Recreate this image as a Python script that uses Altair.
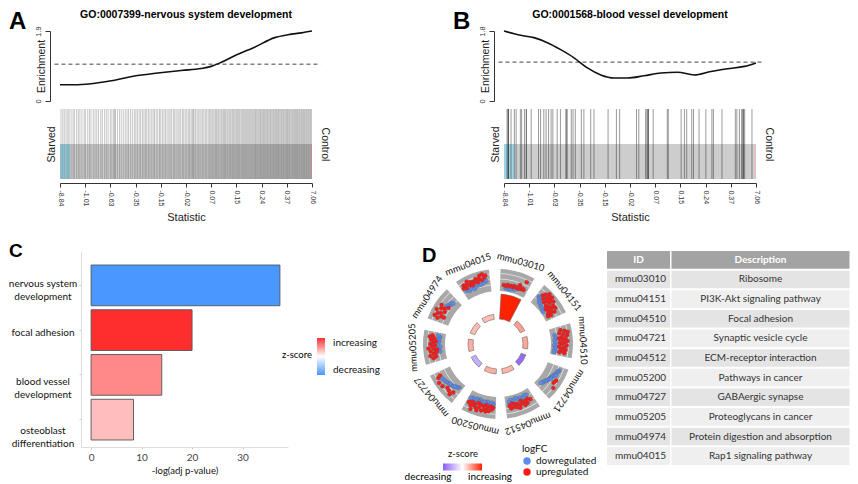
import json
import math
import altair as alt
import pandas as pd

R_FONT = "Liberation Sans"
S_FONT = "Lato"

# ---------------- Panels A / B (barcode enrichment plots) ----------------
STAT_LABELS = ["-8.84", "-1.01", "-0.63", "-0.35", "-0.15", "-0.02", "0.07", "0.15", "0.24", "0.37", "7.06"]

A_LETTER = "A"
A_TITLE = "GO:0007399-nervous system development"
A_CURVE_RANK = [0, 57, 123, 203, 295, 388, 481, 560, 600, 640, 693, 772, 852, 905, 958, 1000]
A_CURVE_ENR = [0.44, 0.44, 0.47, 0.55, 0.68, 0.76, 0.83, 0.88, 0.94, 1.05, 1.23, 1.46, 1.72, 1.80, 1.85, 1.90]
A_YMAX = 1.9
A_STARVED_END = 40
A_CONTROL_START = 995
A_BARS = [4, 11, 17, 24, 31, 36, 44, 52, 57, 66, 73, 79, 87, 96, 101, 110, 117, 123, 132, 139, 146, 153,
          162, 168, 177, 184, 191, 200, 206, 213, 217, 220, 228, 236, 243, 251, 259, 266, 272, 280, 287, 295,
          301, 307, 314, 320, 327, 333, 339, 344, 351, 357, 364, 370, 375, 382, 388, 395, 400, 407, 413, 419,
          425, 432, 437, 443, 450, 455, 461, 468, 473, 479, 486, 491, 497, 503, 509, 514, 520, 525, 529, 532,
          538, 544, 549, 555, 560, 566, 571, 577, 582, 588, 593, 598,
          603, 607, 612, 617, 621, 626, 630, 635, 640, 644, 649, 653, 657, 662, 666, 671, 675, 679, 684, 688,
          692, 697, 701, 705, 709, 713, 718, 722, 726, 730, 734, 738, 742, 746, 750, 754, 758, 762, 766, 770,
          774, 777, 781, 785, 789, 793, 796, 800, 804, 808, 811, 815, 819, 823, 826, 830, 834, 837, 841, 845,
          848, 852, 856, 859, 863, 867, 870, 874, 878, 881, 885, 888, 892, 896, 899, 903, 906, 910, 913, 917,
          921, 924, 928, 931, 935, 938, 942, 945, 949, 952, 956, 959, 963, 966, 970, 973, 977, 980, 984, 987,
          991, 994, 998]

B_LETTER = "B"
B_TITLE = "GO:0001568-blood vessel development"
B_CURVE_RANK = [0, 66, 119, 172, 225, 278, 331, 384, 437, 490, 556, 623, 689, 755, 821, 887, 954, 1000]
B_CURVE_ENR = [1.80, 1.69, 1.63, 1.50, 1.32, 1.11, 0.85, 0.67, 0.59, 0.59, 0.65, 0.72, 0.74, 0.67, 0.76, 0.83, 0.89, 0.98]
B_YMAX = 1.8
B_STARVED_END = 42
B_CONTROL_START = 996
B_BARS = [12, 16, 17, 18, 28, 41, 48, 65, 70, 81, 88, 89, 108, 137, 145, 158, 167, 177, 187, 194, 211, 224,
          246, 247, 251, 267, 274, 283, 307, 317, 344, 357, 413, 446, 459, 526, 535, 562, 567, 571, 572, 573,
          592, 648, 652, 703, 716, 725, 745, 752, 774, 801, 825, 831, 865, 918, 924, 934, 944, 945, 950, 951,
          955, 984]

DASH_LEVEL = 1.0
DASH_SPAN = [-22, 1034]

# ---------------- Panel C ----------------
C_LETTER = "C"
C_TERMS = ["nervous system|development", "focal adhesion", "blood vessel|development", "osteoblast|differentiation"]
C_NEGLOGP = [37.4, 20.0, 14.0, 8.4]
C_ZSCORE = [-3.0, 3.0, 1.7, 0.95]
C_LEGEND_TITLE = "z-score"

# ---------------- Panel D ----------------
D_LETTER = "D"
D_IDS = ["mmu03010", "mmu04151", "mmu04510", "mmu04721", "mmu04512",
         "mmu05200", "mmu04727", "mmu05205", "mmu04974", "mmu04015"]
D_DESC = ["Ribosome", "PI3K-Akt signaling pathway", "Focal adhesion", "Synaptic vesicle cycle",
          "ECM-receptor interaction", "Pathways in cancer", "GABAergic synapse", "Proteoglycans in cancer",
          "Protein digestion and absorption", "Rap1 signaling pathway"]
D_ZSCORE = [3.0, 1.3, 1.2, -2.7, 1.0, 1.1, -1.5, 1.1, 0.9, 0.9]
D_SIGNIF = [5.0, 1.0, 1.0, 1.0, 1.0, 1.0, 1.0, 1.0, 1.0, 1.0]
D_Z_ENDS = ["decreasing", "increasing"]

# gene points per term: (position within sector 0-1, logFC track position 0-1)
D_UP = [
    [(0.10, 0.25), (0.18, 0.22), (0.25, 0.28), (0.31, 0.24), (0.38, 0.27), (0.45, 0.22), (0.50, 0.30), (0.56, 0.25),
     (0.62, 0.28), (0.68, 0.22), (0.73, 0.30), (0.78, 0.26), (0.84, 0.32), (0.90, 0.28), (0.70, 0.45), (0.88, 0.72)],
    [(0.15, 0.60), (0.20, 0.75), (0.25, 0.50), (0.30, 0.65), (0.35, 0.80), (0.35, 0.40), (0.40, 0.55), (0.45, 0.70),
     (0.50, 0.35), (0.50, 0.60), (0.55, 0.80), (0.60, 0.45), (0.60, 0.25), (0.65, 0.65), (0.70, 0.50), (0.70, 0.30),
     (0.75, 0.70), (0.80, 0.40), (0.80, 0.20), (0.85, 0.55), (0.90, 0.30), (0.88, 0.15), (0.42, 0.88), (0.28, 0.90)],
    [(0.10, 0.50), (0.15, 0.70), (0.20, 0.40), (0.25, 0.60), (0.30, 0.80), (0.35, 0.50), (0.40, 0.35), (0.40, 0.70),
     (0.45, 0.55), (0.50, 0.80), (0.55, 0.40), (0.55, 0.65), (0.60, 0.50), (0.65, 0.75), (0.70, 0.35), (0.72, 0.60),
     (0.78, 0.45), (0.80, 0.70), (0.85, 0.55), (0.90, 0.40), (0.92, 0.65), (0.20, 0.85)],
    [(0.45, 0.75), (0.55, 0.70), (0.70, 0.85)],
    [(0.10, 0.50), (0.20, 0.40), (0.25, 0.60), (0.30, 0.45), (0.35, 0.65), (0.40, 0.50), (0.45, 0.35), (0.50, 0.55),
     (0.55, 0.70), (0.60, 0.45), (0.65, 0.60), (0.70, 0.40), (0.75, 0.55), (0.80, 0.35), (0.85, 0.60), (0.90, 0.45)],
    [(0.05, 0.50), (0.10, 0.60), (0.15, 0.45), (0.20, 0.70), (0.25, 0.55), (0.30, 0.40), (0.35, 0.65), (0.40, 0.50),
     (0.45, 0.75), (0.50, 0.45), (0.55, 0.60), (0.60, 0.40), (0.65, 0.70), (0.70, 0.50), (0.75, 0.60), (0.80, 0.45),
     (0.85, 0.65), (0.90, 0.50), (0.95, 0.55), (0.30, 0.75), (0.60, 0.80), (0.80, 0.85)],
    [(0.15, 0.60), (0.30, 0.70), (0.40, 0.65), (0.55, 0.80), (0.70, 0.85), (0.85, 0.75), (0.90, 0.60), (0.20, 0.80)],
    [(0.10, 0.60), (0.15, 0.45), (0.20, 0.75), (0.25, 0.55), (0.30, 0.40), (0.35, 0.70), (0.40, 0.50), (0.45, 0.80),
     (0.50, 0.60), (0.55, 0.45), (0.60, 0.70), (0.65, 0.55), (0.70, 0.40), (0.75, 0.65), (0.80, 0.50), (0.85, 0.75),
     (0.90, 0.60), (0.40, 0.35)],
    [(0.10, 0.60), (0.15, 0.80), (0.20, 0.45), (0.25, 0.70), (0.30, 0.55), (0.35, 0.85), (0.40, 0.40), (0.45, 0.65),
     (0.50, 0.50), (0.55, 0.75), (0.20, 0.30), (0.60, 0.35)],
    [(0.05, 0.55), (0.10, 0.70), (0.15, 0.50), (0.20, 0.65), (0.25, 0.80), (0.30, 0.55), (0.35, 0.70), (0.40, 0.50),
     (0.45, 0.65), (0.50, 0.60), (0.55, 0.75), (0.60, 0.55), (0.65, 0.70), (0.70, 0.85), (0.75, 0.60), (0.80, 0.90),
     (0.85, 0.70), (0.90, 0.80)],
]
D_DOWN = [
    [(0.20, 0.08), (0.28, 0.12), (0.35, 0.06), (0.42, 0.10), (0.55, 0.12)],
    [(0.08, 0.45), (0.12, 0.35), (0.18, 0.30), (0.22, 0.22), (0.30, 0.20), (0.38, 0.15), (0.45, 0.12), (0.55, 0.08),
     (0.62, 0.05), (0.15, 0.50)],
    [(0.25, 0.15), (0.35, 0.20), (0.45, 0.12), (0.55, 0.18), (0.65, 0.10), (0.70, 0.20), (0.80, 0.12), (0.88, 0.20),
     (0.92, 0.10)],
    [(0.10, 0.65), (0.15, 0.60), (0.20, 0.58), (0.25, 0.55), (0.30, 0.52), (0.35, 0.50), (0.40, 0.45), (0.45, 0.42),
     (0.50, 0.40), (0.55, 0.38), (0.60, 0.35), (0.65, 0.30), (0.70, 0.28), (0.75, 0.25), (0.80, 0.22), (0.85, 0.18),
     (0.30, 0.60), (0.50, 0.48)],
    [(0.15, 0.20), (0.25, 0.15), (0.35, 0.25), (0.45, 0.18), (0.55, 0.22), (0.62, 0.12), (0.72, 0.20), (0.82, 0.15),
     (0.90, 0.25)],
    [(0.05, 0.30), (0.12, 0.25), (0.20, 0.30), (0.28, 0.22), (0.35, 0.30), (0.42, 0.25), (0.50, 0.30), (0.58, 0.20),
     (0.65, 0.28), (0.72, 0.22), (0.80, 0.30), (0.88, 0.25), (0.95, 0.30)],
    [(0.10, 0.20), (0.15, 0.25), (0.20, 0.30), (0.28, 0.35), (0.35, 0.38), (0.42, 0.42), (0.50, 0.45), (0.58, 0.50),
     (0.65, 0.52), (0.72, 0.55), (0.80, 0.60), (0.25, 0.30), (0.45, 0.40)],
    [(0.30, 0.20), (0.40, 0.25), (0.50, 0.18), (0.60, 0.30), (0.70, 0.22), (0.78, 0.28), (0.86, 0.20), (0.92, 0.30)],
    [(0.60, 0.50), (0.65, 0.40), (0.70, 0.45), (0.75, 0.35), (0.80, 0.40), (0.85, 0.30)],
    [(0.10, 0.35), (0.20, 0.30), (0.30, 0.35), (0.40, 0.28), (0.50, 0.35), (0.60, 0.40), (0.70, 0.38), (0.80, 0.45),
     (0.90, 0.50)],
]
REG_NAMES = ["dowregulated", "upregulated"]

# ---------------- helpers ----------------
def text_layer(txt, dx, dy, size, align="left", font=R_FONT, weight="bold", baseline="top"):
    return alt.Chart(pd.DataFrame({"t": [txt]})).mark_text(
        font=font, fontSize=size, fontWeight=weight, align=align, baseline=baseline, color="black"
    ).encode(text="t:N", x=alt.value(dx), y=alt.value(dy))


def enrich_chart(title, letter, ranks, enr, ymax):
    df = pd.DataFrame({"rank": ranks, "enr": enr})
    xs = alt.Scale(domain=[0, 1000], nice=False, zero=False)
    ys = alt.Scale(domain=[0, ymax], nice=False, zero=False)
    yaxis = alt.Axis(values=[0, ymax], format=".1~f", title="Enrichment", labelAngle=-90, offset=10, grid=False,
                     domainColor="#333", tickColor="#333", tickSize=5, labelPadding=3, labelFlush=False,
                     labelFont=R_FONT, labelFontSize=7.5, labelColor="#333",
                     titleFont=R_FONT, titleFontSize=10.5, titleFontWeight="normal", titleColor="#222",
                     titlePadding=-12)
    line = alt.Chart(df).mark_line(color="#111", strokeWidth=1.6, interpolate="monotone").encode(
        x=alt.X("rank:Q", scale=xs, axis=None), y=alt.Y("enr:Q", scale=ys, axis=yaxis))
    ref = pd.DataFrame({"lo": [DASH_SPAN[0]], "hi": [DASH_SPAN[1]], "lvl": [DASH_LEVEL]})
    dash = alt.Chart(ref).mark_rule(color="#444", strokeDash=[4, 3], strokeWidth=1).encode(
        x=alt.X("lo:Q", scale=xs, axis=None), x2="hi:Q", y=alt.Y("lvl:Q", scale=ys, axis=yaxis))
    return alt.layer(dash, line,
                     text_layer(letter, -51, -21, 24),
                     text_layer(title, 126, -21, 10.5, align="center")).properties(width=252, height=70)


def barcode_chart(bars, starved_end, control_start, opacity):
    xs = alt.Scale(domain=[0, 1000], nice=False, zero=False)
    ticks = [k * 100 for k in range(len(STAT_LABELS))]
    xaxis = alt.Axis(values=ticks, labelExpr=json.dumps(STAT_LABELS) + "[round(datum.value / 100)]",
                     labelAngle=90, labelAlign="left", labelBaseline="middle", offset=4, tickSize=4,
                     grid=False, domainColor="#333", tickColor="#333", labelFont=R_FONT, labelFontSize=7,
                     labelColor="#333", labelPadding=3, labelFlush=False, labelOverlap=False,
                     title="Statistic", titleFont=R_FONT, titleFontSize=11, titleFontWeight="normal",
                     titleColor="#222", titlePadding=6)
    ys = alt.Scale(domain=[0, 1], nice=False, zero=False)
    regions = pd.DataFrame({"x0": [0, starved_end, control_start],
                            "x1": [starved_end, control_start, 1000],
                            "part": ["starved", "middle", "control"]})
    rect = alt.Chart(regions).mark_rect().encode(
        x=alt.X("x0:Q", scale=xs, axis=xaxis), x2="x1:Q",
        y=alt.Y(datum=0, scale=ys, axis=alt.Axis(title="Starved", labels=False, ticks=False, domain=False,
                                                  grid=False, titleFont=R_FONT, titleFontSize=10.5,
                                                  titleFontWeight="normal", titleColor="#222", titlePadding=4)),
        y2=alt.datum(0.5),
        color=alt.Color("part:N", scale=alt.Scale(domain=["starved", "middle", "control"],
                                                   range=["#9ED3E3", "#CDCDCD", "#F5B5BF"]), legend=None))
    rules = alt.Chart(pd.DataFrame({"rank": bars})).mark_rule(color="#222", opacity=opacity, strokeWidth=1).encode(
        x=alt.X("rank:Q", scale=xs, axis=xaxis),
        y=alt.Y(datum=0, scale=ys, axis=alt.Axis(orient="right", title="Control", labels=False, ticks=False,
                                                  domain=False, grid=False, titleFont=R_FONT, titleFontSize=10.5,
                                                  titleFontWeight="normal", titleColor="#222", titlePadding=7)),
        y2=alt.datum(1))
    return alt.layer(rect, rules).resolve_scale(y="independent").properties(width=252, height=70)


panel_a = alt.vconcat(enrich_chart(A_TITLE, A_LETTER, A_CURVE_RANK, A_CURVE_ENR, A_YMAX),
                      barcode_chart(A_BARS, A_STARVED_END, A_CONTROL_START, 0.25), spacing=4)
panel_b = alt.vconcat(enrich_chart(B_TITLE, B_LETTER, B_CURVE_RANK, B_CURVE_ENR, B_YMAX),
                      barcode_chart(B_BARS, B_STARVED_END, B_CONTROL_START, 0.45), spacing=4)
row1 = alt.hconcat(panel_a, panel_b, spacing=124)

# ---------------- Panel C chart ----------------
C_H = 196
dfc = pd.DataFrame({"term": C_TERMS, "neglogp": C_NEGLOGP, "z": C_ZSCORE})
c_yscale = alt.Scale(paddingInner=0.09, paddingOuter=0.235, align=0.667)
c_bars = alt.Chart(dfc).mark_bar(stroke="#555", strokeWidth=0.9).encode(
    y=alt.Y("term:N", sort=C_TERMS, scale=c_yscale,
            axis=alt.Axis(title=None, labels=False, tickSize=2, tickColor="#ccc", domainColor="#ddd")),
    x=alt.X("neglogp:Q", scale=alt.Scale(domain=[-2, 39], nice=False, zero=False),
            axis=alt.Axis(values=[0, 10, 20, 30], grid=False, title="-log(adj p-value)", tickSize=2,
                          tickColor="#ccc", domainColor="#ddd", labelFont=S_FONT, labelFontSize=10,
                          labelColor="#444", labelPadding=3, titleFont=S_FONT, titleFontSize=9.5,
                          titleFontWeight="normal", titleColor="#111", titlePadding=3, labelFlush=False)),
    x2=alt.datum(0),
    color=alt.Color("z:Q", scale=alt.Scale(domain=[-3, 0, 3], range=["#4A97FF", "#FFFFFF", "#FF2E2E"],
                                           interpolate="rgb"),
                    legend=alt.Legend(title=None, orient="none", legendX=236, legendY=87,
                                      direction="vertical", gradientLength=37, gradientThickness=8,
                                      values=[-3, 3], labelExpr="datum.value > 0 ? 'increasing' : 'decreasing'",
                                      labelFont=S_FONT, labelFontSize=10, labelColor="#111", labelOffset=8,
                                      gradientStrokeWidth=0)))
panel_c = alt.layer(c_bars, text_layer(C_LEGEND_TITLE, 201, 104, 9.5, font=S_FONT, weight="normal",
                                       baseline="middle")).properties(width=207, height=C_H)

c_names = alt.Chart(dfc).mark_text(font=S_FONT, fontSize=10, color="#111", align="center", baseline="middle",
                                   lineBreak="|", lineHeight=13).encode(
    y=alt.Y("term:N", sort=C_TERMS, scale=c_yscale, axis=None), text="term:N", x=alt.value(-17))
panel_c_names = alt.layer(c_names, text_layer(C_LETTER, -51, -9, 19)).properties(width=17, height=C_H)

# ---------------- Panel D circle ----------------
D_SIZE = 186
HALF = D_SIZE / 2
TRACK_IN, TRACK_OUT = 53, 75
RING_IN, RING_UNIT = 25, 5
LABEL_R = 85
GRID_R = [59.0, 64.5, 70.0]

sec_rows, grid_rows, pt_rows, lab_rows = [], [], [], []
for i, sid in enumerate(D_IDS):
    t0, t1 = i * 36 + 2, i * 36 + 29
    sec_rows.append({"id": sid, "t0": t0, "t1": t1, "rt0": t0 + 1.5, "rt1": t1 - 1.5,
                     "z": D_ZSCORE[i], "rin": RING_IN, "rout": RING_IN + RING_UNIT * D_SIGNIF[i]})
    for gr in GRID_R:
        grid_rows.append({"t0": t0, "t1": t1, "r0": gr, "r1": gr + 0.8})
    tc = (t0 + t1) / 2
    lab_rows.append({"id": sid, "x": LABEL_R * math.sin(math.radians(tc)),
                     "y": LABEL_R * math.cos(math.radians(tc)), "rot": tc})
for reg, pts_all in ((REG_NAMES[0], D_DOWN), (REG_NAMES[1], D_UP)):
    for i, pts in enumerate(pts_all):
        t0 = i * 36 + 2
        for f, g in pts:
            th = math.radians(t0 + 1 + f * 25)
            r = TRACK_IN + 1.5 + g * (TRACK_OUT - TRACK_IN - 3)
            pt_rows.append({"x": r * math.sin(th), "y": r * math.cos(th), "reg": reg})

sec_df = pd.DataFrame(sec_rows)
grid_df = pd.DataFrame(grid_rows)
pt_df = pd.DataFrame(pt_rows)
lab_df = pd.DataFrame(lab_rows)

th_scale = alt.Scale(domain=[0, 360], range=[0, 2 * math.pi])
rad_scale = alt.Scale(type="linear", domain=[0, HALF], range=[0, HALF], zero=True, nice=False)
xy_scale = alt.Scale(domain=[-HALF, HALF], nice=False, zero=False)

tracks = alt.Chart(sec_df).mark_arc(color="#A8A8A8").encode(
    theta=alt.Theta("t0:Q", scale=th_scale), theta2="t1:Q",
    radius=alt.Radius(datum=TRACK_OUT, scale=rad_scale), radius2=alt.datum(TRACK_IN))
grid = alt.Chart(grid_df).mark_arc(color="#E6E6E6").encode(
    theta=alt.Theta("t0:Q", scale=th_scale), theta2="t1:Q",
    radius=alt.Radius("r1:Q", scale=rad_scale), radius2="r0:Q")
ring = alt.Chart(sec_df).mark_arc(stroke="#666", strokeWidth=0.6).encode(
    theta=alt.Theta("rt0:Q", scale=th_scale), theta2="rt1:Q",
    radius=alt.Radius("rout:Q", scale=rad_scale), radius2="rin:Q",
    color=alt.Color("z:Q", scale=alt.Scale(domain=[-3, 0, 3], range=["#8A5CF6", "#FFFFFF", "#FF2200"],
                                           interpolate="rgb"),
                    legend=alt.Legend(title="z-score", orient="none", legendX=38, legendY=198,
                                      direction="horizontal", gradientLength=39, gradientThickness=7,
                                      values=[-3, 3], labelExpr="''", titleAnchor="middle", titleFont=S_FONT,
                                      titleFontSize=9.5, titleFontWeight="normal", titleColor="#111",
                                      labelFontSize=10, gradientStrokeWidth=0)))
points = alt.Chart(pt_df).mark_circle(size=17, opacity=1, stroke="#555", strokeWidth=0.3).encode(
    x=alt.X("x:Q", scale=xy_scale, axis=None), y=alt.Y("y:Q", scale=xy_scale, axis=None),
    color=alt.Color("reg:N", scale=alt.Scale(domain=REG_NAMES, range=["#5B8DEF", "#FF1A1A"]),
                    legend=alt.Legend(title="logFC", orient="none", legendX=117, legendY=193,
                                      symbolType="circle", symbolSize=55, symbolStrokeWidth=0,
                                      titleFont=S_FONT, titleFontSize=10, titleFontWeight="normal",
                                      titleColor="#111", labelFont=S_FONT, labelFontSize=10,
                                      labelColor="#111", rowPadding=1, titlePadding=2)))
labels = alt.Chart(lab_df).mark_text(font=S_FONT, fontSize=9.5, color="#111", align="center",
                                     baseline="middle").encode(
    x=alt.X("x:Q", scale=xy_scale, axis=None), y=alt.Y("y:Q", scale=xy_scale, axis=None),
    text="id:N", angle=alt.Angle("rot:Q", scale=None))
panel_d = alt.layer(tracks, grid, ring, points, labels, text_layer(D_LETTER, 17, -5, 20),
                    text_layer(D_Z_ENDS[0], 23, 226, 10, align="center", font=S_FONT, weight="normal",
                               baseline="middle"),
                    text_layer(D_Z_ENDS[1], 85, 226, 10, align="center", font=S_FONT, weight="normal",
                               baseline="middle")).resolve_scale(
    color="independent").properties(width=D_SIZE, height=D_SIZE)

# ---------------- Table ----------------
TABLE_HEAD = ["ID", "Description"]
TABLE_H = 214


def table_col(header, values, width, left):
    n = len(values)
    df = pd.DataFrame({"row": list(range(n + 1)), "txt": [header] + values,
                       "kind": ["header"] + ["odd" if k % 2 == 0 else "even" for k in range(n)]})
    y = alt.Y("row:O", axis=None, scale=alt.Scale(paddingInner=0.1, paddingOuter=0))
    cell = alt.Chart(df).mark_rect().encode(
        y=y, color=alt.Color("kind:N", scale=alt.Scale(domain=["header", "odd", "even"],
                                                        range=["#A3A3A3", "#E4E4E4", "#EFEFEF"]), legend=None))
    head = alt.Chart(df).transform_filter("datum.row == 0").mark_text(
        font=S_FONT, fontSize=10, fontWeight="bold", color="white").encode(y=y, text="txt:N")
    if left:
        body_mark = alt.Chart(df).transform_filter("datum.row > 0").mark_text(
            font=S_FONT, fontSize=10, color="#333", align="left", dx=-width / 2 + 8)
    else:
        body_mark = alt.Chart(df).transform_filter("datum.row > 0").mark_text(
            font=S_FONT, fontSize=10, color="#333")
    body = body_mark.encode(y=y, text="txt:N")
    return alt.layer(cell, head, body).properties(width=width, height=TABLE_H)


table = alt.hconcat(table_col(TABLE_HEAD[0], D_IDS, 63, True),
                    table_col(TABLE_HEAD[1], D_DESC, 178, False), spacing=1.5)

row2 = alt.hconcat(panel_c_names,
                   alt.hconcat(panel_c, alt.hconcat(panel_d, table, spacing=10), spacing=24),
                   spacing=0)

chart = alt.vconcat(row1, row2, spacing=19).properties(
    padding={"left": 0, "top": 2, "right": 0, "bottom": 0}, background="white"
).configure_view(stroke=None)

chart.save("out.html", embed_options={"renderer": "svg", "actions": False})
